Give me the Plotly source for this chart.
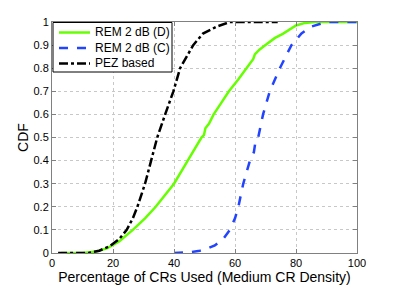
import plotly.graph_objects as go

# REM 2 dB (D)
rem_d_x = [3, 10, 14, 18, 22, 26.5, 30.5, 34, 37, 40, 44.5, 49, 49.8, 50.3, 51.5, 53, 55.5, 58, 61, 63.8, 66, 66.5, 68, 70, 73, 75.8, 78, 80, 83, 86, 100]
rem_d_y = [0, 0, 0.005, 0.02, 0.05, 0.1, 0.15, 0.2, 0.25, 0.3, 0.4, 0.5, 0.51, 0.54, 0.56, 0.6, 0.65, 0.7, 0.75, 0.8, 0.84, 0.86, 0.88, 0.9, 0.93, 0.95, 0.97, 0.985, 0.996, 1, 1]

# REM 2 dB (C)
rem_c_x = [40, 45, 48.5, 51, 53.4, 56.2, 58.3, 60, 61.1, 62.7, 64.9, 66.2, 66.8, 67.6, 69.2, 71.4, 74.7, 78.5, 81.8, 85, 90, 100]
rem_c_y = [0, 0.003, 0.01, 0.02, 0.033, 0.062, 0.1, 0.15, 0.2, 0.3, 0.4, 0.437, 0.49, 0.5, 0.6, 0.7, 0.8, 0.9, 0.95, 0.98, 1, 1]

# PEZ based
pez_x = [2, 12, 15.5, 19, 22, 24.5, 26.5, 28, 30.5, 32.4, 34.5, 37.1, 39.8, 42, 46.3, 49.5, 54, 58.3, 74]
pez_y = [0, 0, 0.01, 0.03, 0.06, 0.1, 0.15, 0.2, 0.3, 0.4, 0.5, 0.6, 0.7, 0.8, 0.9, 0.95, 0.98, 1, 1]

series_names = ["REM 2 dB (D)", "REM 2 dB (C)", "PEZ based"]
series_colors = ["#66ff00", "#2244ff", "black"]
series_dash = ["solid", "dash", "dashdot"]

x_ticks = [0, 20, 40, 60, 80, 100]
y_ticks = [0, 0.1, 0.2, 0.3, 0.4, 0.5, 0.6, 0.7, 0.8, 0.9, 1]
y_tick_text = ["0", "0.1", "0.2", "0.3", "0.4", "0.5", "0.6", "0.7", "0.8", "0.9", "1"]

fig = go.Figure()
for xs, ys, nm, col, dsh in zip([rem_d_x, rem_c_x, pez_x], [rem_d_y, rem_c_y, pez_y],
                                series_names, series_colors, series_dash):
    fig.add_trace(go.Scatter(x=xs, y=ys, mode="lines", name=nm, showlegend=False,
                             line=dict(color=col, width=2.5, dash=dsh)))

axis_common = dict(showline=True, linecolor="#808080", linewidth=1, mirror="ticks",
                   ticks="inside", ticklen=4, tickcolor="#808080",
                   showgrid=True, gridcolor="#c8c8c8", griddash="dot", gridwidth=1,
                   zeroline=False, automargin=False, tickfont=dict(size=11, color="black"))

W, H = 395, 285
ml, mr, mt, mb = 52, 38, 22, 32
pw, ph = W - ml - mr, H - mt - mb

# manual legend (box in paper coordinates)
box_l, box_r = 1 / pw, 120 / pw
box_t, box_b = 1 - 0.5 / ph, 1 - 50 / ph
shapes = [dict(type="rect", xref="paper", yref="paper", x0=box_l, x1=box_r, y0=box_b, y1=box_t,
               line=dict(color="black", width=1), fillcolor="white", layer="above")]
annotations = []
for i, (nm, col, dsh) in enumerate(zip(series_names, series_colors, series_dash)):
    yc = 1 - (10.5 + 15.5 * i) / ph
    shapes.append(dict(type="line", xref="paper", yref="paper", x0=7 / pw, x1=38 / pw, y0=yc, y1=yc,
                       line=dict(color=col, width=2.5, dash=dsh), layer="above"))
    annotations.append(dict(x=41 / pw, y=yc, xref="paper", yref="paper", text=nm, showarrow=False,
                            xanchor="left", yanchor="middle", font=dict(size=12, color="black")))

fig.update_layout(
    width=W, height=H,
    margin=dict(l=ml, r=mr, t=mt, b=mb, autoexpand=False),
    paper_bgcolor="white", plot_bgcolor="white",
    font=dict(family="Liberation Sans, Arial, sans-serif", color="black"),
    xaxis=dict(range=[0, 100], tickvals=x_ticks,
               title=dict(text="Percentage of CRs Used (Medium CR Density)", font=dict(size=14), standoff=6),
               **axis_common),
    yaxis=dict(range=[0, 1], tickvals=y_ticks, ticktext=y_tick_text,
               title=dict(text="CDF", font=dict(size=14), standoff=1),
               **axis_common),
    shapes=shapes,
    annotations=annotations,
    showlegend=False,
)

fig.write_html("out.html", config={"displayModeBar": False, "staticPlot": True},
               post_script="document.body.style.margin='0';document.body.style.overflow='hidden';")
